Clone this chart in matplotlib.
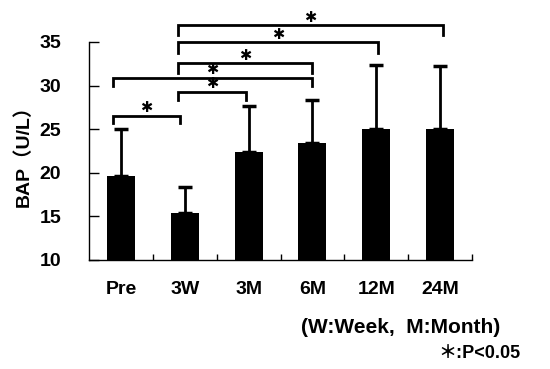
import numpy as np
import matplotlib
matplotlib.use("Agg")
import matplotlib.pyplot as plt

plt.rcParams["font.family"] = ["Liberation Sans", "Noto Sans CJK JP", "DejaVu Sans"]
plt.rcParams["font.weight"] = "bold"
plt.rcParams["axes.labelweight"] = "bold"

groups = ["Pre", "3W", "3M", "6M", "12M", "24M"]
means = [19.6, 15.4, 22.4, 23.4, 25.0, 25.0]
upper = [25.0, 18.4, 27.7, 28.3, 32.4, 32.2]

# significance brackets: (left group, right group, bar height, leg bottom)
brackets = [
    (0, 1, 26.55, 25.75),
    (1, 2, 29.3, 28.35),
    (0, 3, 30.9, 30.0),
    (1, 3, 32.6, 31.5),
    (1, 4, 35.0, 33.7),
    (1, 5, 36.9, 35.8),
]
leg_shift = [-0.13, -0.11, -0.04, -0.01, 0.03, 0.05]

fig = plt.figure(figsize=(5.5, 3.69), dpi=100)
ax = fig.add_axes([0.1618, 0.2954, 0.6964, 0.5908])

x = np.arange(len(groups))
err = np.array(upper) - np.array(means)
ax.bar(x, means, width=0.44, color="black")
ax.errorbar(x, means, yerr=[np.zeros_like(err), err], fmt="none",
            ecolor="black", elinewidth=2, capsize=5, capthick=2.5)

ax.set_xlim(-0.5, 5.5)
ax.set_ylim(10, 35)
ax.set_yticks([10, 15, 20, 25, 30, 35])
ax.set_xticks(x)
ax.set_xticklabels(groups)
ax.set_xticks(np.arange(0.5, 6, 1), minor=True)
ax.tick_params(axis="x", which="major", length=0, pad=15, labelsize=14)
ax.tick_params(axis="x", which="minor", direction="in", length=4, width=1)
ax.tick_params(axis="y", direction="in", length=7, width=1, pad=20, labelsize=14)
for s in ["top", "right"]:
    ax.spines[s].set_visible(False)
for s in ["left", "bottom"]:
    ax.spines[s].set_linewidth(1.0)

for a, b, h, low in brackets:
    xa = a + leg_shift[a]
    xb = b + leg_shift[b]
    if a == 0 and b == 1:
        xb = b - 0.07
    ax.plot([xa, xa, xb, xb], [low, h, h, low], color="black", lw=2,
            clip_on=False, solid_joinstyle="miter")
    ax.text((xa + xb) / 2, h + 0.9, "✱", ha="center", va="center",
            fontsize=10.5, family="DejaVu Sans", clip_on=False)

ax.set_ylabel("BAP（U/L）", fontsize=14, fontweight="bold", labelpad=5)
fig.text(0.909, 0.113, "(W:Week,  M:Month)", ha="right", va="center", fontsize=15)
fig.text(0.946, 0.043, "＊:P<0.05", ha="right", va="center", fontsize=13,
         fontweight="bold")

fig.savefig("out.png", dpi=100)
